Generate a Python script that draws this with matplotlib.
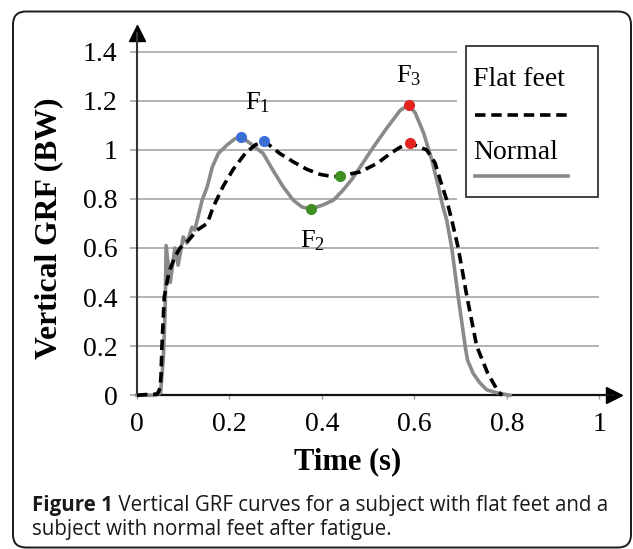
import matplotlib
matplotlib.use("Agg")
import matplotlib.pyplot as plt
from matplotlib.patches import FancyBboxPatch, Rectangle

plt.rcParams['font.family'] = 'Liberation Serif'
plt.rcParams['mathtext.fontset'] = 'custom'
plt.rcParams['mathtext.rm'] = 'Liberation Serif'

# --- DATA ---
t_normal = [0, 0.04, 0.051, 0.057, 0.061, 0.063, 0.072, 0.082, 0.089, 0.1, 0.108,
            0.119, 0.125, 0.132, 0.141, 0.152, 0.163, 0.176, 0.195, 0.212, 0.225,
            0.245, 0.273, 0.294, 0.316, 0.338, 0.357, 0.376, 0.402, 0.425, 0.446,
            0.465, 0.483, 0.511, 0.541, 0.569, 0.588, 0.602, 0.62, 0.638, 0.652,
            0.661, 0.670, 0.681, 0.695, 0.71, 0.715, 0.727, 0.742, 0.757, 0.779, 0.807]
grf_normal = [0, 0, 0.01, 0.15, 0.35, 0.61, 0.46, 0.6, 0.53, 0.645, 0.62,
              0.685, 0.673, 0.726, 0.795, 0.85, 0.93, 0.985, 1.02, 1.045, 1.053,
              1.026, 0.985, 0.917, 0.85, 0.795, 0.767, 0.759, 0.775, 0.795, 0.836,
              0.88, 0.93, 1.01, 1.09, 1.16, 1.183, 1.15, 1.069, 0.958, 0.85,
              0.775, 0.714, 0.6, 0.4, 0.2, 0.144, 0.09, 0.05, 0.022, 0.01, 0]

t_flat = [0, 0.02, 0.044, 0.05, 0.052, 0.054, 0.059, 0.069, 0.081, 0.093, 0.111,
          0.13, 0.152, 0.165, 0.186, 0.208, 0.234, 0.256, 0.275, 0.309, 0.339,
          0.368, 0.396, 0.425, 0.44, 0.483, 0.52, 0.548, 0.569, 0.59, 0.627,
          0.645, 0.656, 0.67, 0.681, 0.695, 0.714, 0.735, 0.758, 0.781, 0.79]
grf_flat = [0, 0.003, 0.005, 0.03, 0.08, 0.2, 0.4, 0.5, 0.56, 0.6, 0.63,
            0.673, 0.70, 0.767, 0.85, 0.92, 0.985, 1.02, 1.036, 0.985, 0.95,
            0.92, 0.90, 0.89, 0.893, 0.91, 0.945, 0.985, 1.01, 1.028, 0.999,
            0.946, 0.877, 0.796, 0.714, 0.6, 0.4, 0.2, 0.093, 0.016, 0]

# key points: first peak (F1), valley (F2), second peak (F3); [normal, flat]
f1_t, f1_grf = [0.225, 0.275], [1.053, 1.036]
f2_t, f2_grf = [0.376, 0.44], [0.759, 0.893]
f3_t, f3_grf = [0.588, 0.59], [1.183, 1.028]

yticks = [0, 0.2, 0.4, 0.6, 0.8, 1, 1.2, 1.4]
ytick_labels = ['0', '0.2', '0.4', '0.6', '0.8', '1', '1.2', '1.4']
xticks = [0, 0.2, 0.4, 0.6, 0.8, 1]
xtick_labels = ['0', '0.2', '0.4', '0.6', '0.8', '1']

# --- FIGURE ---
fig = plt.figure(figsize=(6.33, 5.49), dpi=100)

frame = FancyBboxPatch((0.13, 0.015), 6.18, 5.36,
                       boxstyle="round,pad=0,rounding_size=0.13",
                       transform=fig.dpi_scale_trans, fc='none', ec='#1a1a1a', lw=1.4)
fig.patches.append(frame)

ax = fig.add_axes([0.2164, 0.28, 0.7536, 0.66])
ax.set_facecolor('none')
ax.set_xlim(0, 1.032)
ax.set_ylim(0, 1.476)

serif = 'Liberation Serif'
dash = (0, (2.9, 1.6))

grid_c = '#a6a6a6'
ax.hlines(yticks, -0.015, 1.0, color=grid_c, lw=1.2, zorder=0, clip_on=False)

ax.plot(t_flat, grf_flat, color='black', lw=2.6, ls=dash, zorder=4, clip_on=False)
ax.plot(t_normal, grf_normal, color='#8a8a8a', lw=2.6, zorder=3, clip_on=False)

ax.plot(f1_t, f1_grf, 'o', color='#3a6fd8', ms=7, zorder=5)
ax.plot(f2_t, f2_grf, 'o', color='#3f8f22', ms=7, zorder=5)
ax.plot(f3_t, f3_grf, 'o', color='#e52420', ms=7, zorder=5)

ax.text(0.26, 1.19, r'$\mathrm{F_1}$', fontsize=19, ha='center', va='center')
ax.text(0.379, 0.628, r'$\mathrm{F_2}$', fontsize=19, ha='center', va='center')
ax.text(0.587, 1.30, r'$\mathrm{F_3}$', fontsize=19, ha='center', va='center')

# axes with arrows
for s in ['top', 'right']:
    ax.spines[s].set_visible(False)
ax.spines['left'].set_linewidth(1.5)
ax.spines['left'].set_color('#333333')
ax.spines['bottom'].set_linewidth(1.6)
ax.spines['bottom'].set_color('#111111')
ax.plot(1, 0, '>', color='black', ms=12, transform=ax.transAxes, clip_on=False)
ax.plot(0, 1, '^', color='black', ms=12, transform=ax.transAxes, clip_on=False)

ax.set_yticks(yticks)
ax.set_yticklabels(ytick_labels)
ax.set_xticks(xticks)
ax.set_xticklabels(xtick_labels)
ax.tick_params(axis='y', length=0, pad=14, labelsize=20)
ax.tick_params(axis='x', length=3, width=1, color='#999999', pad=9, labelsize=20)

# legend (drawn by hand: text above each line sample)
ax.add_patch(Rectangle((0.693, 0.78), 0.32, 0.67, fc='white', ec='none', zorder=1))
ax.add_patch(Rectangle((0.712, 0.808), 0.286, 0.615, fc='white', ec='#222222', lw=1.2, zorder=2))
ax.text(0.727, 1.285, 'Flat feet', family=serif, fontsize=20, ha='left', va='center', zorder=3)
ax.plot([0.732, 0.933], [1.142, 1.142], color='black', lw=2.6, ls=dash, zorder=3)
ax.text(0.727, 0.991, 'Normal', family=serif, fontsize=20, ha='left', va='center', zorder=3)
ax.plot([0.732, 0.933], [0.893, 0.893], color='#8a8a8a', lw=2.6, zorder=3)

fig.text(49 / 633, 1 - 228 / 549, 'Vertical GRF (BW)', rotation=90, family=serif,
         fontsize=22.8, fontweight='bold', ha='center', va='center')
fig.text(348 / 633, 1 - 462 / 549, 'Time (s)', family=serif, fontsize=22,
         fontweight='bold', ha='center', va='center')

# caption
cap_kw = dict(family='Open Sans', fontsize=14.8, color='#1a1a1a', va='center')
t1 = fig.text(32 / 633, 1 - 505 / 549, 'Figure 1', fontweight='bold', **cap_kw)
fig.canvas.draw()
bb = t1.get_window_extent()
fig.text(bb.x1 / fig.bbox.width, 1 - 505 / 549,
         ' Vertical GRF curves for a subject with flat feet and a', **cap_kw)
fig.text(32 / 633, 1 - 530 / 549, 'subject with normal feet after fatigue.', **cap_kw)

fig.savefig('out.png', dpi=100)
